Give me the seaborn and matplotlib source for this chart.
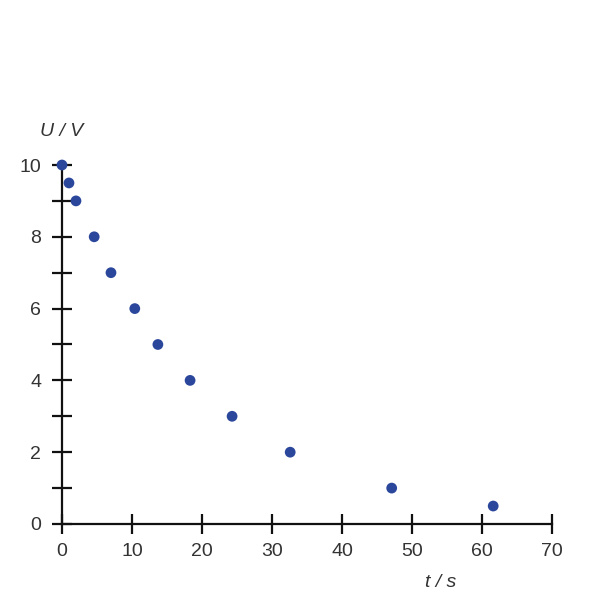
import matplotlib
matplotlib.use("Agg")
import matplotlib.pyplot as plt
import seaborn as sns
import pandas as pd
from matplotlib.ticker import MultipleLocator

# data
t_s = [0, 1, 2, 4.6, 7, 10.4, 13.7, 18.3, 24.3, 32.6, 47.1, 61.6]
u_v = [10, 9.5, 9, 8, 7, 6, 5, 4, 3, 2, 1, 0.5]
x_ticks = [0, 10, 20, 30, 40, 50, 60, 70]
y_ticks = [0, 2, 4, 6, 8, 10]

df = pd.DataFrame({"t": t_s, "U": u_v})

sns.set_style("white")
plt.rcParams['font.family'] = ['Liberation Sans', 'DejaVu Sans']

fig = plt.figure(figsize=(6, 6), dpi=100)
ax = fig.add_axes([0.1033, 0.1267, 0.8167, 0.5983])

sns.scatterplot(data=df, x="t", y="U", ax=ax, color="#2b479c", s=60,
                edgecolor="none", clip_on=False, zorder=5)

ax.set_xlim(0, 70)
ax.set_ylim(0, 10)
ax.set_xticks(x_ticks)
ax.set_yticks(y_ticks)
ax.yaxis.set_minor_locator(MultipleLocator(1))

for s in ["top", "right"]:
    ax.spines[s].set_visible(False)
for s in ["left", "bottom"]:
    ax.spines[s].set_linewidth(1.6)
    ax.spines[s].set_color("#111111")

ax.tick_params(axis="both", which="both", direction="inout", length=14,
               width=1.6, color="#111111", labelsize=14, labelcolor="#333333",
               bottom=True, left=True)
ax.tick_params(axis="x", which="both", pad=7)
ax.tick_params(axis="y", which="both", pad=8)

ax.set_xlabel("")
ax.set_ylabel("")
fig.text(0.735, 0.015, "t / s", style="italic", fontsize=14, color="#333333",
         ha="center", va="bottom")
fig.text(0.103, 0.767, "U / V", style="italic", fontsize=14, color="#333333",
         ha="center", va="bottom")

fig.savefig("out.png", dpi=100)
